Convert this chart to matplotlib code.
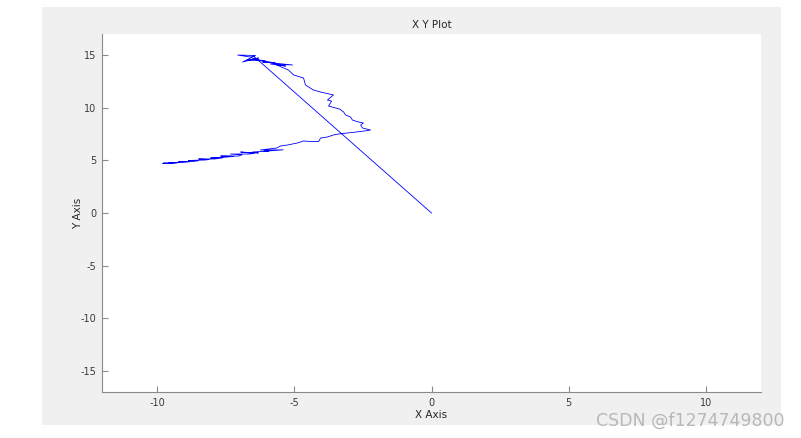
import matplotlib.pyplot as plt
from matplotlib.patches import Rectangle

plt.rcParams['axes.unicode_minus'] = False

# trajectory (starts at origin, then the noisy track)
x_pos = [0.0, -6.48,
         -6.59, -7.06, -6.41, -6.88, -6.30, -6.70, -6.04, -6.52, -5.68, -6.15,
         -5.06, -5.86, -5.31, -5.64, -5.21,
         -5.02, -4.66, -4.59, -4.30, -4.04, -3.57, -3.79, -3.64, -3.75, -3.49,
         -3.35, -3.20, -3.13, -2.95, -2.88, -2.66, -2.48, -2.58, -2.51, -2.22,
         -2.58, -3.06, -3.39, -3.57, -3.79, -4.04, -4.11, -4.40, -4.66, -4.88,
         -5.24, -5.50, -5.64, -5.93, -6.23, -5.40, -6.10, -5.93, -6.52, -6.30,
         -6.95, -6.45, -6.66, -7.32, -6.90, -7.03, -7.68, -7.20, -7.46, -8.05,
         -7.60, -7.90, -8.48, -8.10, -8.26, -8.85, -8.50, -8.70, -9.21, -8.80,
         -9.06, -9.57, -9.20, -9.36, -9.79, -9.50, -9.75]
y_pos = [0.0, 14.90,
         14.81, 15.00, 14.96, 14.34, 14.72, 14.53, 14.43, 14.62, 14.25, 14.34,
         14.06, 14.15, 13.96, 14.06, 13.58,
         13.11, 12.82, 12.16, 11.68, 11.49, 11.21, 10.73, 10.63, 10.16, 9.97,
         9.88, 9.59, 9.31, 9.12, 8.83, 8.64, 8.55, 8.36, 8.07, 7.88,
         7.74, 7.60, 7.50, 7.41, 7.22, 7.12, 6.79, 6.79, 6.84, 6.65,
         6.46, 6.36, 6.17, 6.08, 5.98, 6.00, 5.86, 5.89, 5.79, 5.70,
         5.79, 5.66, 5.60, 5.60, 5.52, 5.41, 5.41, 5.38, 5.31, 5.22,
         5.24, 5.13, 5.13, 5.08, 5.03, 4.99, 4.96, 4.89, 4.89, 4.87,
         4.80, 4.75, 4.79, 4.75, 4.70, 4.72, 4.78]

x_ticks = [-10, -5, 0, 5, 10]
y_ticks = [-15, -10, -5, 0, 5, 10, 15]

W, H = 801, 438
fig = plt.figure(figsize=(W / 100, H / 100), dpi=100, facecolor='white')

# grey figure panel behind the axes
fig.patches.append(Rectangle((42 / W, 1 - 425 / H), (781 - 42) / W, (425 - 7) / H,
                             transform=fig.transFigure, facecolor='#f0f0f0',
                             edgecolor='none', zorder=-10))

ax = fig.add_axes([102 / W, 1 - 392 / H, (761 - 102) / W, (392 - 34) / H])
ax.set_zorder(5)
ax.set_facecolor('white')
ax.plot(x_pos, y_pos, color='#0000ff', linewidth=0.6)

ax.set_xlim(-12, 12)
ax.set_ylim(-17, 17)
ax.set_xticks(x_ticks)
ax.set_yticks(y_ticks)

for side in ['top', 'right']:
    ax.spines[side].set_visible(False)
for side in ['left', 'bottom']:
    ax.spines[side].set_color('#8a8a8a')
    ax.spines[side].set_linewidth(0.8)
ax.tick_params(direction='in', length=4, width=0.8, color='#8a8a8a',
               labelsize=7, labelcolor='#3a3a3a', pad=4)

ax.set_title('X Y Plot', fontsize=7.5, color='#262626', pad=4)
ax.set_xlabel('X Axis', fontsize=7.5, color='#262626', labelpad=2)
ax.set_ylabel('Y Axis', fontsize=7.5, color='#262626', labelpad=-2)

fig.text(785 / W, 1 - 421 / H, 'CSDN @f1274749800', ha='right', va='center',
         fontsize=12.5, color='#b8b8b8', zorder=10)

fig.savefig('out.png', dpi=100)
